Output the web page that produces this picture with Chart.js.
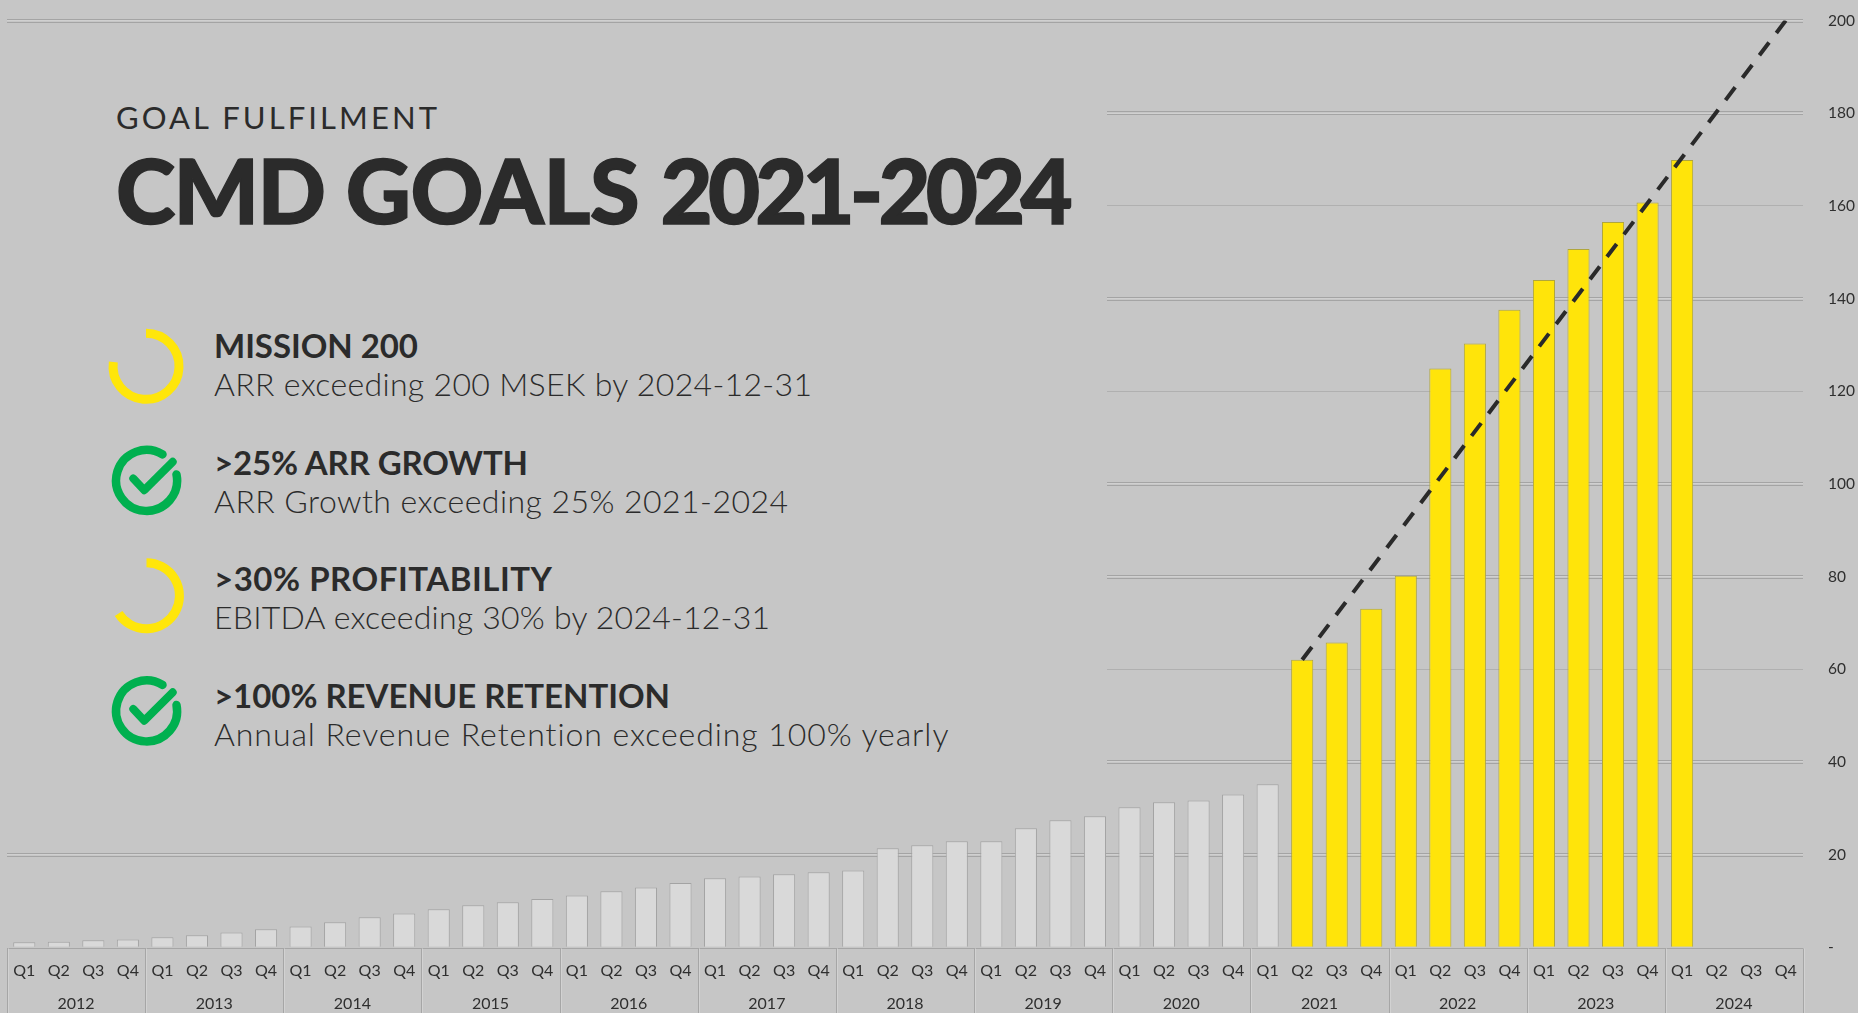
<!DOCTYPE html>
<html lang="en">
<head>
<meta charset="utf-8">
<title>CMD Goals 2021-2024</title>
<script src="https://cdn.jsdelivr.net/npm/chart.js@4"></script>
<style>
  html, body { margin: 0; padding: 0; background: #c6c6c6; width: 1858px; height: 1013px; overflow: hidden; }
  #chart { position: absolute; left: 0; top: 0; }
  #panel { position: absolute; left: 0; top: 26px; width: 1107px; height: 774px; background: #c6c6c6; }
  .t { position: absolute; white-space: nowrap; font-family: Lato, sans-serif; color: #2b2b2b; line-height: 1; }
  .kicker { font-weight: 400; font-size: 31px; }
  .title { font-weight: 900; font-size: 90px; -webkit-text-stroke: 1.4px #2b2b2b; stroke-linejoin: round; }
  .goal { font-weight: 700; font-size: 33px; }
  .sub { font-weight: 300; font-size: 32px; }
  svg { position: absolute; left: 0; top: 0; }
</style>
</head>
<body>
<canvas id="chart" width="1858" height="1013"></canvas>
<div id="panel"></div>
<svg width="1107" height="800" style="overflow:visible">
  <path d="M146 333.3 A33 33 0 1 1 113.3 362" fill="none" stroke="#ffe60a" stroke-width="9"/>
  <path d="M146.5 562.8 A33 33 0 1 1 118.6 613.5" fill="none" stroke="#ffe60a" stroke-width="9"/>
  <g fill="none" stroke="#00b04f" stroke-linecap="round" stroke-linejoin="round">
    <g transform="translate(146.3 480.2)">
      <path d="M30.2 -5.7 A30.5 30.5 0 1 1 16.2 -25.8" stroke-width="8.5"/>
      <path d="M-13 -1.7 L-2 10 L26.4 -18.4" stroke-width="8"/>
    </g>
    <g transform="translate(146.3 710.7)">
      <path d="M30.2 -5.7 A30.5 30.5 0 1 1 16.2 -25.8" stroke-width="8.5"/>
      <path d="M-13 -1.7 L-2 10 L26.4 -18.4" stroke-width="8"/>
    </g>
  </g>
</svg>
<div class="t kicker" data-w="321" style="left:116px;top:102px">GOAL FULFILMENT</div>
<div class="t title" style="left:116px;top:144px"><span data-w="210">CMD</span> <span data-w="294">GOALS</span> <span data-w="412">2021-2024</span></div>
<div id="goals"></div>
<script>
// ARR per quarter, MSEK
const years = ['2012','2013','2014','2015','2016','2017','2018','2019','2020','2021','2022','2023','2024'];
const quarters = ['Q1','Q2','Q3','Q4'];
const arrValues = [
  1.1, 1.2, 1.5, 1.7,
  2.15, 2.6, 3.2, 3.9,
  4.5, 5.4, 6.5, 7.3,
  8.2, 9.1, 9.7, 10.4,
  11.2, 12.1, 12.9, 13.9,
  14.9, 15.3, 15.75, 16.2,
  16.6, 21.35, 22.0, 22.9,
  22.9, 25.7, 27.4, 28.3,
  30.2, 31.3, 31.7, 33.0,
  35.2, 62.05, 65.8, 73.05,
  80.2, 124.9, 130.3, 137.6,
  144.0, 150.7, 156.5, 160.7,
  169.9, null, null, null
];
// Mission 200 path: from the 2021 Q2 starting point to the goal at 2024 Q4
const targetStart = 62.05;
const targetEnd = 200;
const targetStartIndex = 37;
const targetEndIndex = 51;
const goalPeriodStart = 37;
const yTicks = [0, 20, 40, 60, 80, 100, 120, 140, 160, 180, 200];
const singleGridLines = [60, 120, 160];

const goals = [
  ['MISSION 200', 204, 'ARR exceeding 200 MSEK by 2024-12-31', 598],
  ['>25% ARR GROWTH', 314, 'ARR Growth exceeding 25% 2021-2024', 574],
  ['>30% PROFITABILITY', 338, 'EBITDA exceeding 30% by 2024-12-31', 556],
  ['>100% REVENUE RETENTION', 456, 'Annual Revenue Retention exceeding 100% yearly', 735]
];

const goalsBox = document.getElementById('goals');
goals.forEach((g, i) => {
  const top = i * 116.7;
  const a = document.createElement('div');
  a.className = 't goal';
  a.dataset.w = g[1];
  a.textContent = g[0];
  a.style.cssText = 'left:214px;top:' + (329 + top) + 'px';
  const b = document.createElement('div');
  b.className = 't sub';
  b.dataset.w = g[3];
  b.textContent = g[2];
  b.style.cssText = 'left:214px;top:' + (368 + top) + 'px';
  goalsBox.append(a, b);
});
// Track each text run out to its set width
document.querySelectorAll('[data-w]').forEach(el => {
  const natural = el.getBoundingClientRect().width;
  const n = el.textContent.length - 1;
  el.style.letterSpacing = ((+el.dataset.w - natural) / n) + 'px';
});

const labels = years.flatMap(() => quarters);
const targetLine = labels.map((_, i) =>
  i === targetStartIndex ? targetStart : i === targetEndIndex ? targetEnd : null);

// Flanking hairlines on the value grid and the boxed category axis
const chartFurniture = {
  id: 'chartFurniture',
  beforeDatasetsDraw(chart) {
    const { ctx, chartArea, scales } = chart;
    ctx.save();
    ctx.lineWidth = 1;
    yTicks.forEach(v => {
      if (v === 0 || singleGridLines.includes(v)) return;
      const p = Math.round(scales.y.getPixelForValue(v));
      ctx.strokeStyle = '#a4a4a4';
      [p - 1.5, p + 1.5].forEach(yy => {
        ctx.beginPath();
        ctx.moveTo(chartArea.left, yy);
        ctx.lineTo(chartArea.right, yy);
        ctx.stroke();
      });
    });
    ctx.restore();
  },
  afterDatasetsDraw(chart) {
    const { ctx, chartArea, scales, height } = chart;
    const step = scales.x.getPixelForValue(1) - scales.x.getPixelForValue(0);
    ctx.save();
    ctx.lineWidth = 1;
    const top = Math.round(chartArea.bottom) + 1.5;
    ctx.strokeStyle = '#a6a6a6';
    ctx.beginPath();
    ctx.moveTo(chartArea.left, top);
    ctx.lineTo(chartArea.right, top);
    ctx.stroke();
    years.concat('').forEach((_, k) => {
      const x = Math.round(scales.x.getPixelForValue(k * 4) - step / 2) + 0.5;
      ctx.strokeStyle = '#a6a6a6';
      ctx.beginPath();
      ctx.moveTo(x, top);
      ctx.lineTo(x, height);
      ctx.stroke();
      ctx.strokeStyle = '#d2d2d2';
      ctx.beginPath();
      ctx.moveTo(x + 1, top);
      ctx.lineTo(x + 1, height);
      ctx.stroke();
    });
    ctx.restore();
  }
};

const tickFont = { family: 'Lato, sans-serif', size: 15.5 };
const axisFont = { family: 'Lato, sans-serif', size: 16 };

new Chart(document.getElementById('chart'), {
  type: 'bar',
  plugins: [chartFurniture],
  data: {
    labels,
    datasets: [
      {
        type: 'line',
        data: targetLine,
        spanGaps: true,
        order: 0,
        borderColor: '#2a2a2a',
        borderWidth: 4,
        borderDash: [16, 12.07],
        borderCapStyle: 'butt',
        pointRadius: 0,
        tension: 0
      },
      {
        type: 'bar',
        data: arrValues,
        order: 1,
        categoryPercentage: 1,
        barPercentage: 0.64,
        borderWidth: 1,
        borderSkipped: 'bottom',
        backgroundColor: c => c.dataIndex >= goalPeriodStart ? '#ffe40a' : '#d9d9d9',
        borderColor: c => c.dataIndex >= goalPeriodStart ? '#b0a63c' : '#a3a3a3'
      }
    ]
  },
  options: {
    responsive: false,
    animation: false,
    layout: { padding: { left: 7, top: 20.5, right: 0, bottom: 0 } },
    plugins: { legend: { display: false }, tooltip: { enabled: false }, title: { display: false } },
    scales: {
      x: {
        type: 'category',
        position: 'bottom',
        weight: 0,
        offset: true,
        grid: { display: false },
        border: { display: false },
        ticks: { autoSkip: false, maxRotation: 0, minRotation: 0, padding: 6, color: '#2f2f2f', font: axisFont },
        afterFit(s) { s.height = 31.7; }
      },
      x2: {
        type: 'category',
        axis: 'x',
        position: 'bottom',
        weight: 1,
        labels: years,
        offset: true,
        grid: { display: false },
        border: { display: false },
        ticks: { autoSkip: false, maxRotation: 0, minRotation: 0, padding: 7, color: '#2f2f2f', font: axisFont },
        afterFit(s) { s.height = 34; }
      },
      y: {
        type: 'linear',
        position: 'right',
        min: 0,
        max: 200,
        afterBuildTicks(s) { s.ticks = yTicks.map(value => ({ value })); },
        grid: {
          drawTicks: true,
          tickLength: 20,
          tickColor: 'rgba(0,0,0,0)',
          lineWidth: 1,
          color: c => c.tick && c.tick.value === 0 ? 'rgba(0,0,0,0)'
            : c.tick && singleGridLines.includes(c.tick.value) ? '#b0b0b0' : '#d0d0d0'
        },
        border: { display: false },
        ticks: {
          padding: 5,
          color: '#2f2f2f',
          font: tickFont,
          callback: v => v === 0 ? '-' : String(v)
        },
        afterFit(s) { s.width = 55; }
      }
    }
  }
});
</script>
</body>
</html>
